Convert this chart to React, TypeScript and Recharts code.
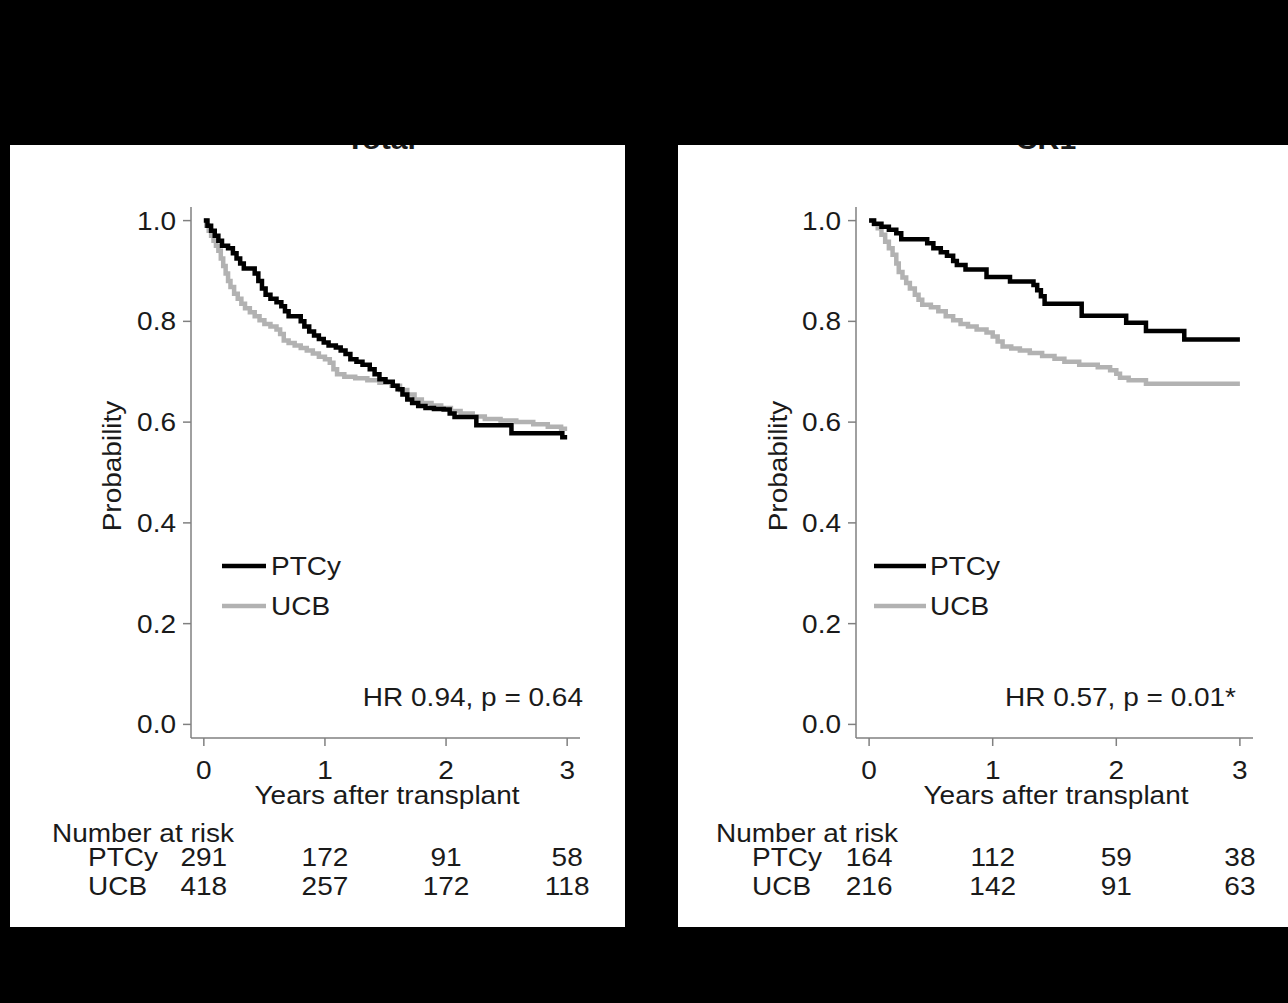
import React from 'react';
import { LineChart, Line, XAxis, YAxis } from 'recharts';

// ---------- data ----------
const yearTicks = [0, 1, 2, 3];
const probTicks = [0, 0.2, 0.4, 0.6, 0.8, 1.0];

// Total panel
const totalPTCyTime = [0,0.03,0.06,0.09,0.12,0.15,0.20,0.24,0.27,0.30,0.33,0.42,0.45,0.48,0.51,0.55,0.60,0.64,0.67,0.70,0.80,0.83,0.87,0.91,0.95,0.99,1.03,1.09,1.13,1.17,1.21,1.26,1.31,1.37,1.41,1.45,1.50,1.56,1.60,1.64,1.68,1.72,1.77,1.83,1.90,1.98,2.03,2.07,2.25,2.54,2.96,3.0];
const totalPTCyProb = [1,0.99,0.98,0.97,0.96,0.95,0.945,0.935,0.925,0.915,0.905,0.895,0.88,0.865,0.853,0.845,0.838,0.83,0.82,0.81,0.80,0.79,0.78,0.772,0.765,0.758,0.752,0.748,0.742,0.735,0.725,0.72,0.714,0.705,0.695,0.685,0.68,0.672,0.665,0.655,0.645,0.638,0.632,0.628,0.626,0.625,0.617,0.61,0.594,0.578,0.57,0.57];
const totalUCBTime = [0,0.02,0.04,0.06,0.08,0.10,0.12,0.14,0.16,0.18,0.20,0.22,0.25,0.28,0.31,0.34,0.38,0.42,0.46,0.50,0.55,0.60,0.63,0.66,0.70,0.75,0.80,0.85,0.90,0.95,1.00,1.04,1.07,1.10,1.16,1.25,1.35,1.45,1.55,1.62,1.68,1.74,1.80,1.88,1.96,2.04,2.12,2.22,2.32,2.45,2.58,2.72,2.84,2.95,3.0];
const totalUCBProb = [1,0.99,0.98,0.97,0.96,0.95,0.94,0.925,0.91,0.895,0.88,0.868,0.855,0.845,0.835,0.826,0.818,0.81,0.802,0.795,0.79,0.784,0.775,0.762,0.757,0.752,0.747,0.742,0.736,0.73,0.725,0.718,0.705,0.695,0.69,0.687,0.683,0.678,0.672,0.664,0.655,0.645,0.638,0.633,0.628,0.622,0.617,0.611,0.606,0.603,0.6,0.596,0.591,0.587,0.587];

// Second panel
const grfPTCyTime = [0,0.04,0.10,0.16,0.22,0.26,0.47,0.52,0.58,0.63,0.68,0.71,0.78,0.95,1.14,1.33,1.36,1.39,1.42,1.72,2.08,2.24,2.55,3.0];
const grfPTCyProb = [1,0.994,0.988,0.982,0.975,0.963,0.955,0.945,0.937,0.93,0.92,0.912,0.903,0.888,0.879,0.872,0.862,0.85,0.835,0.811,0.797,0.781,0.764,0.764];
const grfUCBTime = [0,0.04,0.07,0.10,0.13,0.16,0.19,0.22,0.24,0.27,0.30,0.33,0.37,0.40,0.43,0.50,0.56,0.62,0.68,0.74,0.80,0.87,0.95,1.00,1.04,1.08,1.15,1.22,1.30,1.40,1.50,1.58,1.70,1.85,1.95,2.00,2.03,2.10,2.24,3.0];
const grfUCBProb = [1,0.993,0.985,0.972,0.958,0.945,0.932,0.915,0.898,0.887,0.876,0.865,0.853,0.843,0.833,0.828,0.82,0.81,0.802,0.795,0.79,0.784,0.778,0.77,0.76,0.75,0.746,0.742,0.737,0.731,0.726,0.72,0.714,0.709,0.703,0.696,0.688,0.683,0.676,0.676];

const riskTotalPTCy = [291, 172, 91, 58];
const riskTotalUCB = [418, 257, 172, 118];
const riskGrfPTCy = [164, 112, 59, 38];
const riskGrfUCB = [216, 142, 91, 63];

const seriesNames = ['PTCy', 'UCB'];

const zip = (t: number[], p: number[]) =>
  t.slice(0, Math.min(t.length, p.length)).map((v, i) => ({ t: v, p: p[i] }));

// ---------- styling ----------
const FONT = "'Liberation Sans', Arial, Helvetica, sans-serif";
const SX = 1.12;
const TXT = '#1a1a1a';
const AXIS = '#808080';
const BLACK = '#000000';
const GREY = '#b2b2b2';
const PANEL_H = 782;

function ST(props: any) {
  const { x, y, anchor = 'start', size = 25, weight = 400, rotate = 0, children } = props;
  const tr = `translate(${x},${y})${rotate ? ` rotate(${rotate})` : ''} scale(${SX},1)`;
  return (
    <text transform={tr} textAnchor={anchor} fontSize={size} fontWeight={weight} fontFamily={FONT} fill={TXT}>
      {children}
    </text>
  );
}

const YTick = (p: any) => (
  <g>
    <ST x={p.x} y={p.y + 9} anchor="end">{Number(p.payload.value).toFixed(1)}</ST>
  </g>
);

const XTick = (p: any) => (
  <g>
    <ST x={p.x} y={p.y + 33} anchor="middle">{p.payload.value}</ST>
  </g>
);

const makeRiskTick = (values: number[]) => (p: any) => {
  const idx = yearTicks.indexOf(p.payload.value);
  return (
    <g>
      <ST x={p.x} y={p.y + 28} anchor="middle">{idx >= 0 ? values[idx] : ''}</ST>
    </g>
  );
};

type PanelProps = {
  left: number;
  width: number;
  yAxisWidth: number;
  marginRight: number;
  title: string;
  titleX: number;
  ptcy: { t: number; p: number }[];
  ucb: { t: number; p: number }[];
  riskPTCy: number[];
  riskUCB: number[];
  hr: string;
  hrX: number;
  probX: number;
  yearsX: number;
  legLine: [number, number];
  legTextX: number;
  narX: number;
  rowX: number;
};

function Panel(pp: PanelProps) {
  const xDomain: [number, number] = [-0.106, 3.106];
  return (
    <div
      style={{
        position: 'absolute',
        left: pp.left,
        top: 145,
        width: pp.width,
        height: PANEL_H,
        background: '#ffffff',
        overflow: 'hidden',
      }}
    >
      <LineChart
        width={pp.width}
        height={PANEL_H}
        margin={{ top: 62, right: pp.marginRight, left: 0, bottom: 31 }}
      >
        <XAxis
          xAxisId="main"
          dataKey="t"
          type="number"
          domain={xDomain}
          allowDataOverflow
          ticks={yearTicks}
          interval={0}
          height={100}
          tickSize={8}
          tickMargin={0}
          axisLine={{ stroke: AXIS, strokeWidth: 1.5 }}
          tickLine={{ stroke: AXIS, strokeWidth: 1.5 }}
          tick={XTick}
        />
        <XAxis
          xAxisId="r1"
          dataKey="t"
          type="number"
          domain={xDomain}
          allowDataOverflow
          ticks={yearTicks}
          interval={0}
          height={29}
          tickSize={0}
          tickMargin={0}
          axisLine={false}
          tickLine={false}
          tick={makeRiskTick(pp.riskPTCy)}
        />
        <XAxis
          xAxisId="r2"
          dataKey="t"
          type="number"
          domain={xDomain}
          allowDataOverflow
          ticks={yearTicks}
          interval={0}
          height={29}
          tickSize={0}
          tickMargin={0}
          axisLine={false}
          tickLine={false}
          tick={makeRiskTick(pp.riskUCB)}
        />
        <YAxis
          type="number"
          domain={[-0.027, 1.027]}
          allowDataOverflow
          ticks={probTicks}
          interval={0}
          width={pp.yAxisWidth}
          tickSize={8}
          tickMargin={7}
          axisLine={{ stroke: AXIS, strokeWidth: 1.5 }}
          tickLine={{ stroke: AXIS, strokeWidth: 1.5 }}
          tick={YTick}
        />
        <Line
          xAxisId="main"
          data={pp.ucb}
          dataKey="p"
          type="stepAfter"
          stroke={GREY}
          strokeWidth={4.5}
          dot={false}
          activeDot={false}
          isAnimationActive={false}
          name={seriesNames[1]}
        />
        <Line
          xAxisId="main"
          data={pp.ptcy}
          dataKey="p"
          type="stepAfter"
          stroke={BLACK}
          strokeWidth={4.5}
          dot={false}
          activeDot={false}
          isAnimationActive={false}
          name={seriesNames[0]}
        />
      </LineChart>
      <svg
        width={pp.width}
        height={PANEL_H}
        style={{ position: 'absolute', left: 0, top: 0, pointerEvents: 'none' }}
      >
        <ST x={pp.titleX} y={4} anchor="middle" size={27} weight={700}>{pp.title}</ST>
        <ST x={pp.probX} y={321} anchor="middle" rotate={-90}>Probability</ST>
        <ST x={pp.yearsX} y={659} anchor="middle">Years after transplant</ST>
        <line x1={pp.legLine[0]} x2={pp.legLine[1]} y1={421} y2={421} stroke={BLACK} strokeWidth={4.5} />
        <ST x={pp.legTextX} y={430}>{seriesNames[0]}</ST>
        <line x1={pp.legLine[0]} x2={pp.legLine[1]} y1={461} y2={461} stroke={GREY} strokeWidth={4.5} />
        <ST x={pp.legTextX} y={470}>{seriesNames[1]}</ST>
        <ST x={pp.hrX} y={561} anchor="end">{pp.hr}</ST>
        <ST x={pp.narX} y={697}>Number at risk</ST>
        <ST x={pp.rowX} y={721}>{seriesNames[0]}</ST>
        <ST x={pp.rowX} y={750}>{seriesNames[1]}</ST>
      </svg>
    </div>
  );
}

export default function App() {
  return (
    <div
      style={{
        position: 'absolute',
        left: 0,
        top: 0,
        width: 1288,
        height: 1003,
        background: '#000000',
        overflow: 'hidden',
      }}
    >
      <Panel
        left={10}
        width={615}
        yAxisWidth={181}
        marginRight={45}
        title="Total"
        titleX={371}
        ptcy={zip(totalPTCyTime, totalPTCyProb)}
        ucb={zip(totalUCBTime, totalUCBProb)}
        riskPTCy={riskTotalPTCy}
        riskUCB={riskTotalUCB}
        hr="HR 0.94, p = 0.64"
        hrX={573}
        probX={111}
        yearsX={377}
        legLine={[212, 256]}
        legTextX={261}
        narX={42}
        rowX={78}
      />
      <Panel
        left={678}
        width={610}
        yAxisWidth={178}
        marginRight={35}
        title="CR1"
        titleX={368}
        ptcy={zip(grfPTCyTime, grfPTCyProb)}
        ucb={zip(grfUCBTime, grfUCBProb)}
        riskPTCy={riskGrfPTCy}
        riskUCB={riskGrfUCB}
        hr="HR 0.57, p = 0.01*"
        hrX={558}
        probX={109}
        yearsX={378}
        legLine={[196, 248]}
        legTextX={252}
        narX={38}
        rowX={74}
      />
    </div>
  );
}
